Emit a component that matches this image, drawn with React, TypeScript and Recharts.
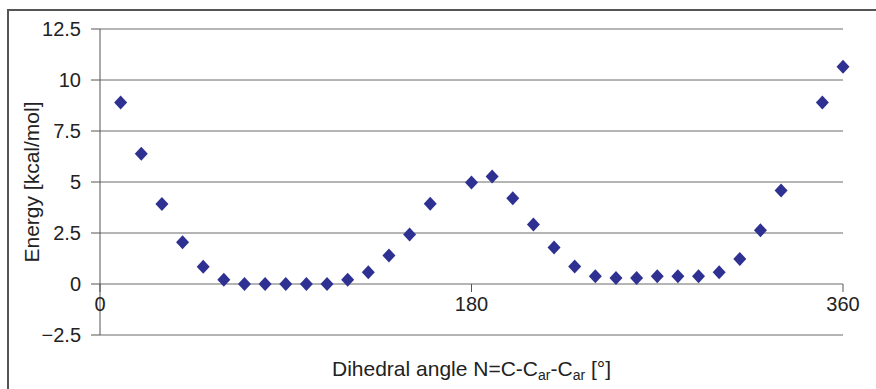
import {
  CartesianGrid,
  Label,
  ReferenceDot,
  Scatter,
  ScatterChart,
  XAxis,
  YAxis,
} from "recharts";

// dihedral angle (deg) and relative energy (kcal/mol)
const ANGLES = [
  10, 20, 30, 40, 50, 60, 70, 80, 90, 100, 110, 120, 130, 140, 150, 160,
  180, 190, 200, 210, 220, 230, 240, 250, 260, 270, 280, 290, 300, 310, 320,
  330, 350, 360,
];
const ENERGIES = [
  8.9, 6.38, 3.92, 2.05, 0.84, 0.21, 0.0, 0.0, 0.0, 0.0, 0.0, 0.21, 0.57,
  1.4, 2.43, 3.93, 4.97, 5.27, 4.2, 2.92, 1.79, 0.86, 0.38, 0.29, 0.29, 0.38,
  0.38, 0.38, 0.57, 1.23, 2.63, 4.58, 8.9, 10.65,
];
const X_TICKS = [0, 180, 360];
const Y_TICKS = [-2.5, 0, 2.5, 5, 7.5, 10, 12.5];

const X_TITLE = "Dihedral angle N=C-C";
const Y_TITLE = "Energy [kcal/mol]";

const data = ANGLES.map((angle, i) => ({ angle, energy: ENERGIES[i] }));

const FONT = "'Liberation Sans', Arial, Helvetica, sans-serif";
const INK = "#222";
const AXIS = "#555";
const MARKER = "#2E3192";

function Diamond(props: any) {
  const { cx, cy } = props;
  if (cx == null || cy == null) return null;
  const r = 7;
  return (
    <polygon
      points={`${cx},${cy - r} ${cx + r - 0.5},${cy} ${cx},${cy + r} ${cx - r + 0.5},${cy}`}
      fill={MARKER}
    />
  );
}

// x ticks sit on the zero line, like the original spreadsheet chart
function XTickAtZero(label: string) {
  return (props: any) => {
    const { cx, cy } = props;
    if (cx == null || cy == null) return null;
    return (
      <g>
        <line x1={cx} y1={cy} x2={cx} y2={cy + 8} stroke={AXIS} strokeWidth={1} />
        <text
          x={cx}
          y={cy + 27}
          textAnchor="middle"
          fontSize={20}
          fontFamily={FONT}
          fill={INK}
        >
          {label}
        </text>
      </g>
    );
  };
}

function YTitle(props: any) {
  const vb = props.viewBox || {};
  const x = (vb.x ?? 0) + 39;
  const y = (vb.y ?? 0) + (vb.height ?? 0) / 2;
  return (
    <text
      x={x}
      y={y}
      transform={`rotate(-90 ${x} ${y})`}
      textAnchor="middle"
      fontSize={21}
      fontFamily={FONT}
      fill={INK}
    >
      {Y_TITLE}
    </text>
  );
}

function XTitle(props: any) {
  const vb = props.viewBox || {};
  const x = (vb.x ?? 0) + (vb.width ?? 0) / 2;
  const y = (vb.y ?? 0) + 41;
  return (
    <text x={x} y={y} textAnchor="middle" fontSize={21} fontFamily={FONT} fill={INK}>
      {X_TITLE}
      <tspan fontSize={14} dy={4}>ar</tspan>
      <tspan dy={-4}>-C</tspan>
      <tspan fontSize={14} dy={4}>ar</tspan>
      <tspan dy={-4}> [°]</tspan>
    </text>
  );
}

export default function App() {
  return (
    <div
      style={{
        position: "absolute",
        left: 0,
        top: 0,
        width: 876,
        height: 389,
        background: "#fff",
        overflow: "hidden",
      }}
    >
      <div
        style={{
          position: "absolute",
          left: 7,
          top: 9,
          width: 900,
          height: 400,
          borderLeft: "2px solid #555",
          borderTop: "2px solid #555",
        }}
      />
      <ScatterChart
        width={876}
        height={389}
        margin={{ top: 29, right: 33, bottom: 0, left: 0 }}
        style={{ position: "absolute", left: 0, top: 0 }}
      >
        <CartesianGrid vertical={false} stroke="#6a6a6a" strokeWidth={1} />
        <XAxis
          type="number"
          dataKey="angle"
          domain={[0, 360]}
          ticks={X_TICKS}
          height={54}
          tick={false}
          tickLine={false}
          axisLine={false}
        >
          <Label content={XTitle} />
        </XAxis>
        <YAxis
          type="number"
          dataKey="energy"
          domain={[-2.5, 12.5]}
          ticks={Y_TICKS}
          width={100}
          interval={0}
          axisLine={{ stroke: AXIS, strokeWidth: 1 }}
          tickLine={{ stroke: AXIS, strokeWidth: 1 }}
          tickSize={9}
          tickMargin={10}
          tick={{ fontSize: 20, fontFamily: FONT, fill: INK }}
          tickFormatter={(v: number) => (v < 0 ? `\u2212${Math.abs(v)}` : `${v}`)}
        >
          <Label content={YTitle} />
        </YAxis>
        {X_TICKS.map((t) => (
          <ReferenceDot
            key={t}
            x={t}
            y={0}
            ifOverflow="visible"
            shape={XTickAtZero(String(t))}
          />
        ))}
        <Scatter data={data} shape={<Diamond />} isAnimationActive={false} />
      </ScatterChart>
    </div>
  );
}
